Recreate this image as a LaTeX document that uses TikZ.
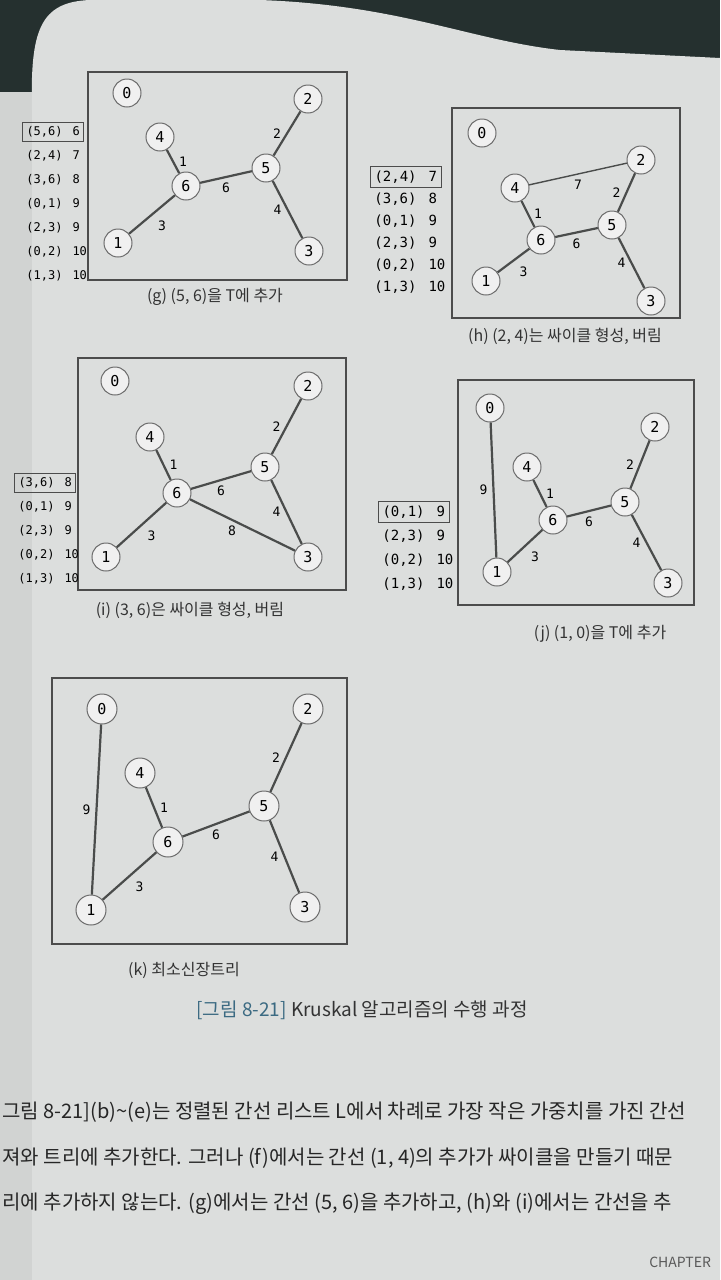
\documentclass[tikz,border=0pt]{standalone}
\usepackage{fontspec}
\setmainfont{Noto Sans CJK KR}
\newfontfamily\monofont{DejaVu Sans Mono}
\usetikzlibrary{positioning}

\definecolor{pagegray}{HTML}{DCDEDD}
\definecolor{darkbg}{HTML}{25302F}
\definecolor{edgegray}{HTML}{4A4C4B}
\definecolor{capblue}{HTML}{3B6A82}

\begin{document}
\begin{tikzpicture}[x=0.5pt,y=-0.5pt,
  vtx/.style={circle,draw=gray!85!black,fill=gray!12,line width=0.5pt,minimum size=14pt,inner sep=0pt,font=\monofont\fontsize{7.5}{8}\selectfont},
  edge/.style={draw=edgegray,line width=1.1pt},
  lbl/.style={font=\monofont\fontsize{6.5}{8}\selectfont,inner sep=2.5pt},
  frame/.style={draw=black!70,line width=0.6pt},
  lst/.style={anchor=west,font=\monofont\fontsize{7}{8}\selectfont,inner sep=2pt},
  lstsmall/.style={lst,font=\monofont\fontsize{6}{7}\selectfont},
  boxed/.style={draw=black!70,line width=0.5pt},
  captxt/.style={font=\fontsize{8}{10}\selectfont,text=black!80},
  bodytxt/.style={anchor=west,font=\fontsize{10}{12}\selectfont,text=black!85,inner sep=0pt}]
  \clip (0,0) rectangle (720,1280);
  % page and background
  \fill[darkbg] (0,0) rectangle (720,1280);
  \fill[pagegray!95!black] (0,92) rectangle (40,1280);
  \fill[pagegray] (32,1280) -- (32,110) .. controls (30,30) and (40,2) .. (90,0) -- (260,0)
    .. controls (400,5) and (470,40) .. (560,50) -- (720,58) -- (720,1280) -- cycle;
  % (g) (5,6) added
  \draw[frame] (88,72) rectangle (347,280);
  \foreach \n/\x/\y in {0/127/93,2/308/99,4/160/137,5/266/168,6/186/186,1/118/243,3/309/251}
    \node[vtx] (g\n) at (\x,\y) {\n};
  \draw[edge] (g4) -- node[lbl,right]{1} (g6);
  \draw[edge] (g6) -- node[lbl,below]{6} (g5);
  \draw[edge] (g5) -- node[lbl,left]{2} (g2);
  \draw[edge] (g5) -- node[lbl,left]{4} (g3);
  \draw[edge] (g1) -- node[lbl,below right]{3} (g6);
  \node[lstsmall,boxed] (gl1) at (22,132) {(5,6)\hspace{5pt}6};
  \node[lstsmall] (gl2) at (22,156) {(2,4)\hspace{5pt}7};
  \node[lstsmall] (gl3) at (22,180) {(3,6)\hspace{5pt}8};
  \node[lstsmall] (gl4) at (22,204) {(0,1)\hspace{5pt}9};
  \node[lstsmall] (gl5) at (22,228) {(2,3)\hspace{5pt}9};
  \node[lstsmall] (gl6) at (22,252) {(0,2)\hspace{5pt}10};
  \node[lstsmall] (gl7) at (22,276) {(1,3)\hspace{5pt}10};
  \node[captxt] (gcap) at (215,297) {(g) (5, 6)을 T에 추가};
  % (h) (2,4) makes a cycle
  \draw[frame] (452,108) rectangle (680,318);
  \foreach \n/\x/\y in {0/482/133,2/641/160,4/515/188,5/612/225,6/541/240,1/486/281,3/651/301}
    \node[vtx] (h\n) at (\x,\y) {\n};
  \draw[edge,line width=0.7pt] (h4) -- node[lbl,below]{7} (h2);
  \draw[edge] (h4) -- node[lbl,right]{1} (h6);
  \draw[edge] (h6) -- node[lbl,below]{6} (h5);
  \draw[edge] (h5) -- node[lbl,left]{2} (h2);
  \draw[edge] (h5) -- node[lbl,left]{4} (h3);
  \draw[edge] (h1) -- node[lbl,below right]{3} (h6);
  \node[lst,boxed] (hl1) at (370,177) {(2,4)\hspace{6pt}7};
  \node[lst] (hl2) at (370,199) {(3,6)\hspace{6pt}8};
  \node[lst] (hl3) at (370,221) {(0,1)\hspace{6pt}9};
  \node[lst] (hl4) at (370,243) {(2,3)\hspace{6pt}9};
  \node[lst] (hl5) at (370,265) {(0,2)\hspace{6pt}10};
  \node[lst] (hl6) at (370,287) {(1,3)\hspace{6pt}10};
  \node[captxt] (hcap) at (565,336) {(h) (2, 4)는 싸이클 형성, 버림};
  % (i) (3,6) makes a cycle
  \draw[frame] (78,358) rectangle (346,590);
  \foreach \n/\x/\y in {0/115/381,2/308/386,4/150/437,5/265/467,6/177/493,1/106/557,3/308/557}
    \node[vtx] (i\n) at (\x,\y) {\n};
  \draw[edge] (i4) -- node[lbl,right]{1} (i6);
  \draw[edge] (i6) -- node[lbl,below]{6} (i5);
  \draw[edge] (i5) -- node[lbl,left]{2} (i2);
  \draw[edge] (i5) -- node[lbl,left]{4} (i3);
  \draw[edge] (i1) -- node[lbl,below right]{3} (i6);
  \draw[edge] (i6) -- node[lbl,below,pos=0.4]{8} (i3);
  \node[lstsmall,boxed] (il1) at (14,483) {(3,6)\hspace{5pt}8};
  \node[lstsmall] (il2) at (14,507) {(0,1)\hspace{5pt}9};
  \node[lstsmall] (il3) at (14,531) {(2,3)\hspace{5pt}9};
  \node[lstsmall] (il4) at (14,555) {(0,2)\hspace{5pt}10};
  \node[lstsmall] (il5) at (14,579) {(1,3)\hspace{5pt}10};
  \node[captxt] (icap) at (190,610) {(i) (3, 6)은 싸이클 형성, 버림};
  % (j) (1,0) added
  \draw[frame] (458,380) rectangle (694,605);
  \foreach \n/\x/\y in {0/490/408,2/655/427,4/527/467,5/625/502,6/553/520,1/497/572,3/668/583}
    \node[vtx] (j\n) at (\x,\y) {\n};
  \draw[edge] (j0) -- node[lbl,left]{9} (j1);
  \draw[edge] (j4) -- node[lbl,right]{1} (j6);
  \draw[edge] (j6) -- node[lbl,below]{6} (j5);
  \draw[edge] (j5) -- node[lbl,left]{2} (j2);
  \draw[edge] (j5) -- node[lbl,left]{4} (j3);
  \draw[edge] (j1) -- node[lbl,below right]{3} (j6);
  \node[lst,boxed] (jl1) at (378,512) {(0,1)\hspace{6pt}9};
  \node[lst] (jl2) at (378,536) {(2,3)\hspace{6pt}9};
  \node[lst] (jl3) at (378,560) {(0,2)\hspace{6pt}10};
  \node[lst] (jl4) at (378,584) {(1,3)\hspace{6pt}10};
  \node[captxt] (jcap) at (600,634) {(j) (1, 0)을 T에 추가};
  % (k) minimum spanning tree
  \draw[frame] (52,678) rectangle (347,944);
  \foreach \n/\x/\y in {0/102/709,2/308/709,4/140/773,5/264/806,6/168/842,1/91/910,3/305/907}
    \node[vtx,minimum size=15pt] (k\n) at (\x,\y) {\n};
  \draw[edge] (k0) -- node[lbl,left]{9} (k1);
  \draw[edge] (k4) -- node[lbl,right]{1} (k6);
  \draw[edge] (k6) -- node[lbl,below]{6} (k5);
  \draw[edge] (k5) -- node[lbl,left]{2} (k2);
  \draw[edge] (k5) -- node[lbl,left]{4} (k3);
  \draw[edge] (k1) -- node[lbl,below right]{3} (k6);
  \node[captxt] (kcap) at (184,970) {(k) 최소신장트리};
  % figure caption and body text
  \node[font=\fontsize{9.5}{12}\selectfont,text=black!80] (figcap) at (362,1010)
    {\textcolor{capblue}{[그림 8-21]}\ Kruskal 알고리즘의 수행 과정};
  \node[bodytxt] (body1) at (2,1112)
    {그림 8-21](b)\textasciitilde(e)는 정렬된 간선 리스트 L에서 차례로 가장 작은 가중치를 가진 간선};
  \node[bodytxt] (body2) at (2,1158)
    {져와 트리에 추가한다. 그러나 (f)에서는 간선 (1, 4)의 추가가 싸이클을 만들기 때문};
  \node[bodytxt] (body3) at (2,1204)
    {리에 추가하지 않는다. (g)에서는 간선 (5, 6)을 추가하고, (h)와 (i)에서는 간선을 추};
  \node[anchor=east,font=\fontsize{7}{8}\selectfont,text=gray!70!black] (chap) at (718,1262) {CHAPTER};
\end{tikzpicture}
\end{document}
